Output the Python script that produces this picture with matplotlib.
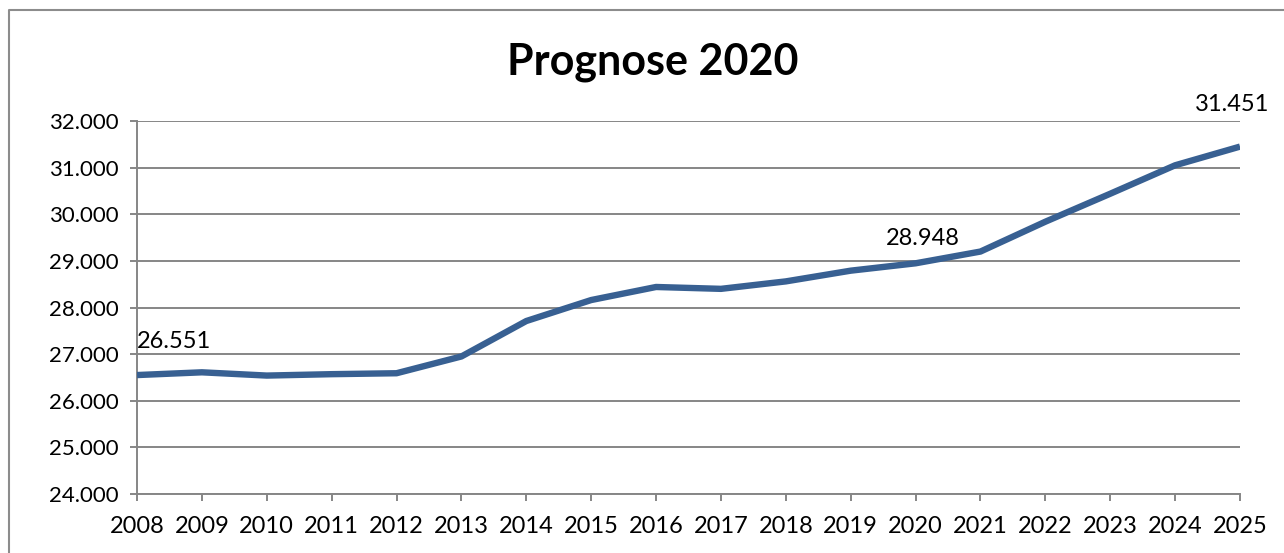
import matplotlib
matplotlib.use("Agg")
from matplotlib import pyplot
from matplotlib.lines import Line2D
from matplotlib.ticker import FuncFormatter

years = [2008, 2009, 2010, 2011, 2012, 2013, 2014, 2015, 2016,
         2017, 2018, 2019, 2020, 2021, 2022, 2023, 2024, 2025]
values = [26551, 26610, 26540, 26570, 26590, 26950, 27710, 28160, 28440,
          28400, 28560, 28790, 28948, 29200, 29840, 30440, 31050, 31451]
labelled_years = [2008, 2020, 2025]
title = "Prognose 2020"

pyplot.rcParams['font.family'] = ['Lato', 'DejaVu Sans']

fig = pyplot.figure(figsize=(12.84, 5.53), dpi=100)
ax = fig.add_axes([137/1284, 1-494/553, (1240-137)/1284, (494-121)/553])

grid_c = '#868686'
ax.plot(years, values, color='#386092', lw=4.6, solid_capstyle='butt', zorder=3)

ax.set_xlim(2008, 2025)
ax.set_ylim(24000, 32000)
ax.set_xticks(years)
ax.set_yticks(range(24000, 32001, 1000))
ax.yaxis.set_major_formatter(FuncFormatter(lambda v, p: f"{int(v):,}".replace(',', '.')))
ax.yaxis.grid(True, color=grid_c, lw=1.4)
ax.set_axisbelow(True)

for s in ['top', 'right']:
	ax.spines[s].set_visible(False)
for s in ['left', 'bottom']:
	ax.spines[s].set_color(grid_c)
	ax.spines[s].set_linewidth(1.4)

ax.tick_params(axis='both', colors=grid_c, labelcolor='black',
               length=5, width=1.4, direction='out')
ax.tick_params(axis='x', pad=11, labelsize=17)
ax.tick_params(axis='y', pad=8, labelsize=16)

offsets = {2008: (0, 34, 'left'), 2020: (7, 25, 'center'), 2025: (-8, 42, 'center')}
for y in labelled_years:
	v = values[years.index(y)]
	dx, dy, ha = offsets[y]
	ax.annotate(f"{v:,}".replace(',', '.'), (y, v), xytext=(dx, dy),
	            textcoords='offset pixels', ha=ha, va='center', fontsize=17,
	            annotation_clip=False)

fig.text(653/1284, 1-62/553, title, ha='center', va='center',
         fontsize=31, fontweight='bold')

# frame of the chart object
fig.add_artist(Line2D([9/1284, 9/1284, 1], [0, 1-10/553, 1-10/553],
                      color='#8c8c8c', lw=1.5, transform=fig.transFigure))

pyplot.savefig('out.png', dpi=100)
